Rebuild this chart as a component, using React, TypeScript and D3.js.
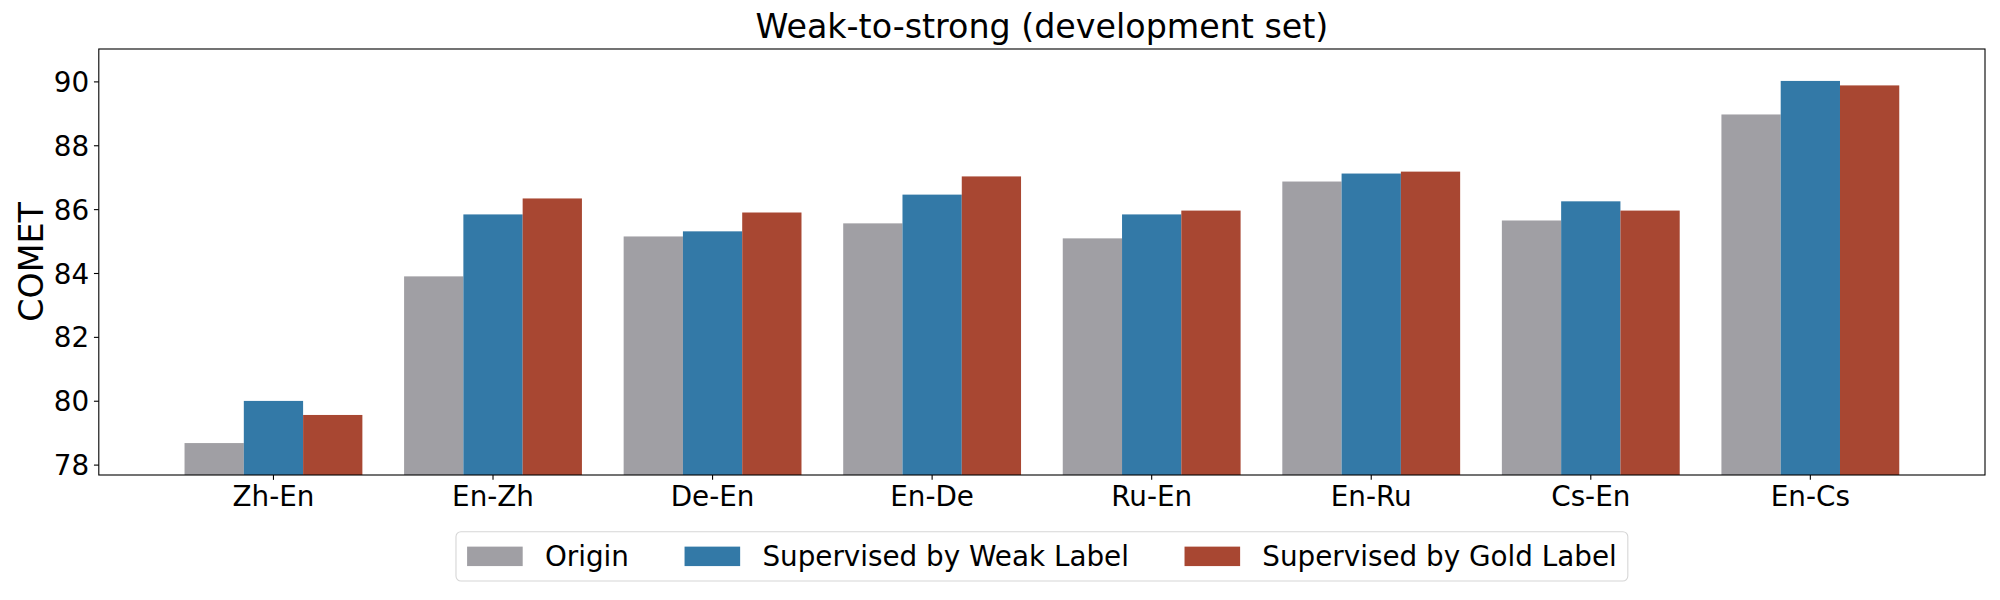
import React, { useEffect, useRef } from "react";
import * as d3 from "d3";

const categories = ["Zh-En", "En-Zh", "De-En", "En-De", "Ru-En", "En-Ru", "Cs-En", "En-Cs"];
const originValues = [78.69, 83.91, 85.16, 85.57, 85.10, 86.88, 85.66, 88.98];
const weakValues = [80.01, 85.85, 85.32, 86.47, 85.85, 87.13, 86.26, 90.03];
const goldValues = [79.57, 86.35, 85.91, 87.04, 85.97, 87.19, 85.97, 89.89];
const seriesNames = ["Origin", "Supervised by Weak Label", "Supervised by Gold Label"];
const seriesColors = ["#a09fa4", "#3379a7", "#a84732"];
const yTicks = [78, 80, 82, 84, 86, 88, 90];
const titleText = "Weak-to-strong (development set)";
const yLabel = "COMET";

const W = 2000;
const H = 600;
const FONT = "DejaVu Sans, sans-serif";

export default function App() {
  const ref = useRef<SVGSVGElement | null>(null);

  useEffect(() => {
    const svg = d3.select(ref.current);
    svg.selectAll("*").remove();

    const left = 98.8, right = 1985, top = 49, bottom = 475;
    const barW = 0.27;
    const series = [originValues, weakValues, goldValues];
    const n = categories.length;
    const lo = -1.5 * barW, hi = n - 1 + 1.5 * barW;
    const margin = (hi - lo) * 0.05;
    const x = d3.scaleLinear().domain([lo - margin, hi + margin]).range([left, right]);
    const all = series.flat();
    const y = d3.scaleLinear().domain([d3.min(all)! - 1, d3.max(all)! + 1]).range([bottom, top]);

    // bars
    series.forEach((vals, j) => {
      svg.append("g")
        .selectAll("rect")
        .data(vals)
        .join("rect")
        .attr("x", (_, i) => x(i + (j - 1) * barW - barW / 2))
        .attr("width", x(barW) - x(0))
        .attr("y", (v) => y(v))
        .attr("height", (v) => bottom - y(v))
        .attr("fill", seriesColors[j]);
    });

    // frame
    svg.append("rect")
      .attr("x", left).attr("y", top)
      .attr("width", right - left).attr("height", bottom - top)
      .attr("fill", "none").attr("stroke", "#000").attr("stroke-width", 1.1);

    const fs = 27.8;
    const tickLen = 4.86;
    // y ticks
    const yg = svg.append("g");
    yTicks.forEach((t) => {
      yg.append("line").attr("x1", left - tickLen).attr("x2", left)
        .attr("y1", y(t)).attr("y2", y(t)).attr("stroke", "#000").attr("stroke-width", 1.1);
      yg.append("text").attr("x", left - tickLen - 4.86).attr("y", y(t) + 10.1)
        .attr("text-anchor", "end").attr("font-family", FONT).attr("font-size", fs)
        .attr("fill", "#000").text(String(t));
    });
    // x ticks
    const xg = svg.append("g");
    categories.forEach((c, i) => {
      xg.append("line").attr("x1", x(i)).attr("x2", x(i))
        .attr("y1", bottom).attr("y2", bottom + tickLen).attr("stroke", "#000").attr("stroke-width", 1.1);
      xg.append("text").attr("x", x(i)).attr("y", 506)
        .attr("text-anchor", "middle").attr("font-family", FONT).attr("font-size", fs)
        .attr("fill", "#000").text(c);
    });

    // title
    svg.append("text").attr("x", (left + right) / 2).attr("y", 38)
      .attr("text-anchor", "middle").attr("font-family", FONT).attr("font-size", 33.3)
      .attr("fill", "#000").text(titleText);

    // y label
    svg.append("text")
      .attr("transform", `translate(42.5, ${(top + bottom) / 2}) rotate(-90)`)
      .attr("text-anchor", "middle").attr("font-family", FONT).attr("font-size", 33.3)
      .attr("fill", "#000").text(yLabel);

    // legend
    const handleL = 2 * fs, handleH = 0.7 * fs, pad = 0.8 * fs, colSp = 2 * fs, bpad = 0.4 * fs;
    const lg = svg.append("g");
    const box = lg.append("rect");
    const texts = seriesNames.map((s) =>
      lg.append("text").attr("font-family", FONT).attr("font-size", fs).attr("fill", "#000").text(s)
    );
    const widths = texts.map((t) => (t.node() as SVGTextElement).getComputedTextLength());
    const total = 2 * bpad + widths.reduce((a, b) => a + b, 0) + 3 * (handleL + pad) + 2 * colSp;
    const bx = (left + right) / 2 - total / 2;
    const bTop = 531.7, bH = 49.3;
    box.attr("x", bx).attr("y", bTop).attr("width", total).attr("height", bH)
      .attr("rx", 5).attr("ry", 5)
      .attr("fill", "#fff").attr("fill-opacity", 0.8)
      .attr("stroke", "#d6d6d6").attr("stroke-width", 1.1);
    let cx = bx + bpad;
    const cy = bTop + bH / 2;
    seriesNames.forEach((_, j) => {
      lg.append("rect").attr("x", cx).attr("y", cy - handleH / 2)
        .attr("width", handleL).attr("height", handleH).attr("fill", seriesColors[j]);
      texts[j].attr("x", cx + handleL + pad).attr("y", cy + 10.1);
      cx += handleL + pad + widths[j] + colSp;
    });
  }, []);

  return (
    <svg
      ref={ref}
      width={W}
      height={H}
      style={{ position: "absolute", left: 0, top: 0, background: "#fff" }}
    />
  );
}
